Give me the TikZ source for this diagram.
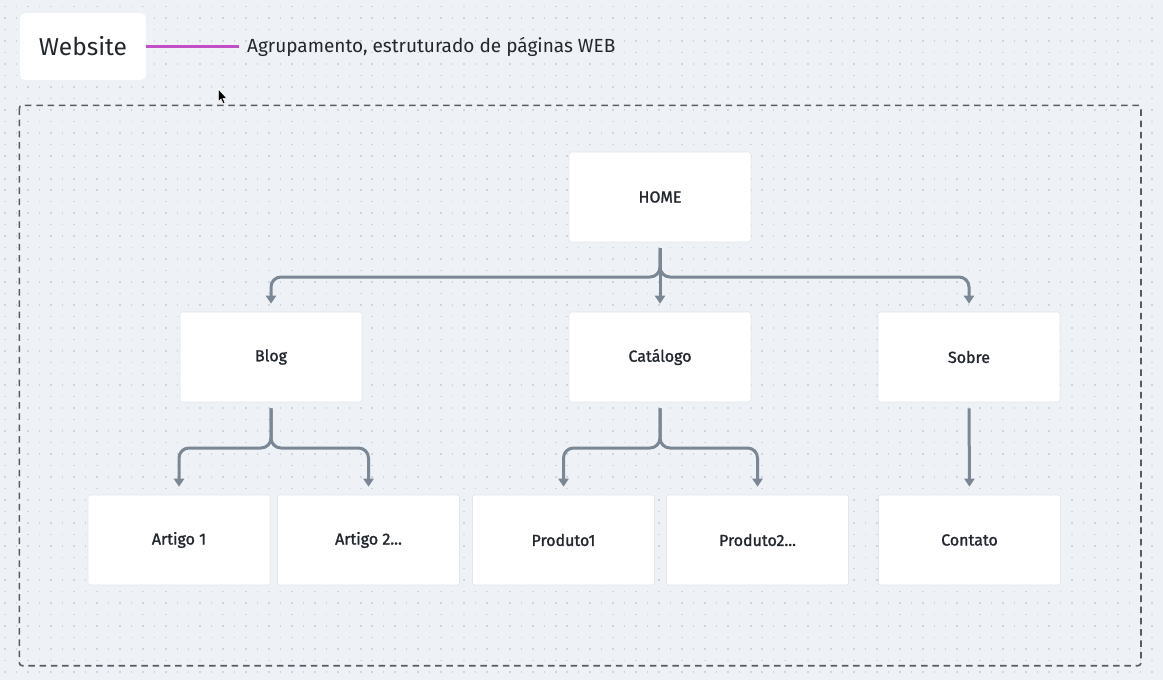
\documentclass[tikz,border=0pt]{standalone}
\usepackage{fontspec}
\setmainfont{Fira Sans}
\newfontfamily\medfont{Fira Sans}[FakeBold=1.3]
\usetikzlibrary{arrows.meta,calc}
\definecolor{bgc}{HTML}{EEF1F6}
\definecolor{dotc}{HTML}{D0D5DC}
\definecolor{conc}{HTML}{7B8794}
\definecolor{txtc}{HTML}{22272D}
\definecolor{dashc}{HTML}{555C65}
\definecolor{magc}{HTML}{C24FC8}
\definecolor{edgec}{HTML}{E2E6EB}
\tikzset{
  pagebox/.style={fill=white, draw=edgec, line width=0.6pt, rounded corners=2.5pt,
    minimum width=182pt, minimum height=90pt, inner sep=0pt, text=txtc,
    font=\medfont\fontsize{16}{19}\selectfont},
  tip/.style={-{Triangle[length=8pt,width=10pt]}},
}
\begin{document}
\begin{tikzpicture}[x=1pt,y=-1pt]
\useasboundingbox (0,0) rectangle (1163,680);
\fill[bgc] (0,0) rectangle (1163,680);
% dot grid
\foreach \k in {0,...,58}{
  \draw[dotc, line width=1.5pt, dash pattern=on 1.5pt off 9.97pt]
    (4.45,{6.7+\k*11.47}) -- (1163,{6.7+\k*11.47});
}
% group frame
\draw[dashc, line width=1.6pt, dash pattern=on 6.5pt off 4.8pt, rounded corners=3pt]
  (19.3,105.3) rectangle (1141,665.7);
% title
\node[fill=white, rounded corners=5pt, minimum width=126pt, minimum height=67pt, inner sep=0pt,
  text=txtc, font=\fontsize{24.5}{28}\selectfont] (web) at (83,46.5) {Website};
\node[anchor=west, text=txtc, inner sep=0pt, font=\fontsize{19}{22}\selectfont] (desc) at (247,46.5) {Agrupamento, estruturado de páginas WEB};
\coordinate (mend) at ($(desc.west)+(-8,0)$);
\draw[magc, line width=3.2pt] (web.east) -- (mend);
% cursor
\filldraw[fill=black, draw=white, line width=0.5pt] (218.3,89) -- (218.3,101.5) -- (221,99) -- (223.2,103.6) -- (225,102.8) -- (222.9,98.4) -- (226.6,98.2) -- cycle;
% pages
\node[pagebox] (home) at (660,197) {HOME};
\node[pagebox] (blog) at (271,357) {Blog};
\node[pagebox] (cat) at (660,357) {Catálogo};
\node[pagebox] (sobre) at (969,357) {Sobre};
\node[pagebox] (a1) at (179,540) {Artigo 1};
\node[pagebox] (a2) at (368.5,540) {Artigo 2...};
\node[pagebox] (p1) at (563.5,540) {Produto1};
\node[pagebox] (p2) at (757.5,540) {Produto2...};
\node[pagebox] (cont) at (969.5,540) {Contato};
% HOME bracket
\coordinate (hs) at ($(home.south)+(0,6)$);
\draw[conc, line width=3pt, tip] (hs) -- ($(cat.north)+(0,-8)$);
\draw[conc, line width=3pt, rounded corners=10pt, tip] (hs) -- (660,277) -- ($(blog.north |- 0,277)$) -- ($(blog.north)+(0,-8)$);
\draw[conc, line width=3pt, rounded corners=10pt, tip] (hs) -- (660,277) -- ($(sobre.north |- 0,277)$) -- ($(sobre.north)+(0,-8)$);
% Blog bracket
\coordinate (bs) at ($(blog.south)+(0,6)$);
\draw[conc, line width=3pt, rounded corners=10pt, tip] (bs) -- (271,448) -- ($(a1.north |- 0,448)$) -- ($(a1.north)+(0,-8)$);
\draw[conc, line width=3pt, rounded corners=10pt, tip] (bs) -- (271,448) -- ($(a2.north |- 0,448)$) -- ($(a2.north)+(0,-8)$);
% Catalogo bracket
\coordinate (cs) at ($(cat.south)+(0,6)$);
\draw[conc, line width=3pt, rounded corners=10pt, tip] (cs) -- (660,448) -- ($(p1.north |- 0,448)$) -- ($(p1.north)+(0,-8)$);
\draw[conc, line width=3pt, rounded corners=10pt, tip] (cs) -- (660,448) -- ($(p2.north |- 0,448)$) -- ($(p2.north)+(0,-8)$);
% Sobre -> Contato
\draw[conc, line width=3pt, tip] ($(sobre.south)+(0,6)$) -- ($(cont.north)+(0,-8)$);
\end{tikzpicture}
\end{document}
